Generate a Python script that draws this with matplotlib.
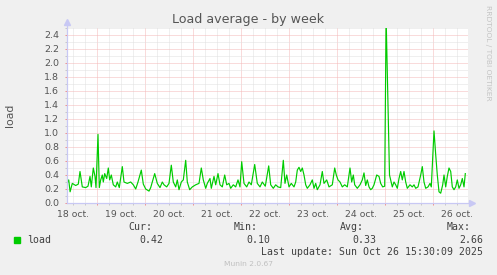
import matplotlib
matplotlib.use("Agg")
import matplotlib.pyplot as plt
from matplotlib.ticker import FixedLocator, MultipleLocator, FuncFormatter

# load average samples, hours counted from 18 oct 00:00
hours = [
    9.2, 10.0, 10.7, 11.8, 13.5, 14.8, 15.65, 16.8, 18.5, 19.65, 20.65, 21.3,
    22.3, 23.15, 23.65, 24.65, 25.3, 26.0, 26.8, 27.3, 28.0, 29.0, 29.8, 30.5,
    31.3, 32.3, 33.5, 34.3, 35.3, 36.8, 37.65, 39.3, 41.0, 42.3, 43.5, 44.65,
    46.3, 47.3, 48.5, 50.15, 51.0, 51.8, 53.0, 54.3, 55.65, 56.8, 57.65, 59.0,
    60.15, 61.3, 62.3, 63.5, 64.3, 65.15, 66.3, 67.3, 68.5, 69.3, 70.5, 71.8,
    73.5, 75.15, 76.3, 77.3, 78.5, 79.3, 80.65, 81.3, 82.65, 83.5, 84.65, 85.65,
    86.8, 88.0, 89.0, 90.15, 91.0, 92.3, 93.5, 94.65, 95.65, 96.5, 97.65, 99.0,
    100.15, 101.3, 103.0, 104.3, 105.65, 106.8, 108.3, 110.0, 111.0, 112.3, 113.5, 114.65,
    116.0, 117.3, 118.15, 119.0, 120.15, 121.3, 122.65, 123.5, 124.3, 125.15, 126.0, 126.8,
    127.65, 128.5, 129.3, 130.65, 131.8, 132.65, 133.5, 134.3, 135.65, 136.8, 137.65, 139.0,
    140.15, 141.8, 143.0, 143.8, 144.65, 145.65, 146.8, 148.0, 149.3, 150.65, 151.5, 152.3,
    153.0, 154.3, 155.65, 156.8, 157.65, 158.5, 159.3, 160.15, 161.0, 161.8, 162.65, 164.0,
    165.15, 166.0, 167.0, 168.0, 168.7, 170.4, 171.0, 171.8, 172.65, 173.5, 174.3, 175.15,
    176.0, 176.8, 177.65, 178.5, 179.3, 180.65, 181.8, 182.65, 183.5, 184.65, 186.0, 186.8,
    187.65, 188.5, 189.65, 190.65, 191.3, 192.65, 193.5, 194.3, 195.15, 196.0, 197.0, 197.65,
    198.5, 199.3, 200.15, 201.0, 201.8, 202.65, 203.5, 204.3, 205.15, 206.0, 206.8, 207.65,
    208.3,
]
load = [
    0.28, 0.33, 0.16, 0.28, 0.25, 0.27, 0.45, 0.23, 0.22, 0.24, 0.38, 0.23,
    0.50, 0.38, 0.22, 0.98, 0.22, 0.33, 0.40, 0.30, 0.42, 0.35, 0.50, 0.33,
    0.40, 0.26, 0.23, 0.30, 0.22, 0.52, 0.30, 0.28, 0.30, 0.26, 0.20, 0.30,
    0.47, 0.27, 0.20, 0.17, 0.22, 0.30, 0.42, 0.28, 0.22, 0.30, 0.26, 0.23,
    0.28, 0.54, 0.30, 0.23, 0.33, 0.19, 0.30, 0.33, 0.61, 0.30, 0.19, 0.23,
    0.26, 0.28, 0.50, 0.33, 0.21, 0.28, 0.35, 0.21, 0.38, 0.26, 0.42, 0.26,
    0.23, 0.40, 0.26, 0.28, 0.21, 0.26, 0.23, 0.33, 0.23, 0.59, 0.28, 0.23,
    0.30, 0.26, 0.55, 0.28, 0.23, 0.30, 0.24, 0.53, 0.26, 0.21, 0.26, 0.23,
    0.22, 0.61, 0.28, 0.40, 0.23, 0.28, 0.23, 0.30, 0.47, 0.51, 0.45, 0.50,
    0.40, 0.26, 0.21, 0.26, 0.33, 0.21, 0.28, 0.19, 0.26, 0.45, 0.28, 0.33,
    0.23, 0.26, 0.50, 0.40, 0.33, 0.30, 0.23, 0.26, 0.23, 0.50, 0.30, 0.40,
    0.26, 0.21, 0.26, 0.33, 0.43, 0.25, 0.33, 0.23, 0.19, 0.21, 0.26, 0.40,
    0.38, 0.28, 0.23, 0.24, 2.66, 0.40, 0.33, 0.23, 0.30, 0.26, 0.21, 0.35,
    0.45, 0.33, 0.45, 0.30, 0.21, 0.26, 0.23, 0.26, 0.21, 0.23, 0.40, 0.52,
    0.30, 0.21, 0.23, 0.28, 0.23, 1.03, 0.69, 0.40, 0.16, 0.14, 0.26, 0.40,
    0.23, 0.38, 0.50, 0.45, 0.23, 0.19, 0.23, 0.33, 0.21, 0.26, 0.35, 0.23,
    0.42,
]

day_labels = ["18 oct.", "19 oct.", "20 oct.", "21 oct.", "22 oct.",
              "23 oct.", "24 oct.", "25 oct.", "26 oct."]
stat_names = ["Cur:", "Min:", "Avg:", "Max:"]
stat_values = ["0.42", "0.10", "0.33", "2.66"]

W, H = 497, 275
GREEN = "#00cc00"
TXT = "#555555"


def fx(x):
    return x / W


def fy(y):
    return 1 - y / H


fig = plt.figure(figsize=(W / 100, H / 100), dpi=100, facecolor="#f0f0f0")
ax = fig.add_axes([fx(67), fy(203), (468 - 67) / W, (203 - 28) / H])
ax.set_facecolor("white")

ax.plot(hours, load, color=GREEN, lw=0.85, zorder=3)

ax.set_xlim(9.15, 209.65)
ax.set_ylim(0, 2.5)

# x grid: red at midnight, grey every 6 h, day names at noon
midnights = [24 * (i + 1) for i in range(len(day_labels) - 1)]
six_hours = [12 + 6 * i for i in range(33) if (12 + 6 * i) % 24 != 0]
ax.xaxis.set_major_locator(FixedLocator(midnights))
ax.xaxis.set_minor_locator(FixedLocator(six_hours))
ax.xaxis.set_major_formatter(FuncFormatter(lambda v, p: ""))
ax.xaxis.set_minor_formatter(FuncFormatter(
    lambda v, p: day_labels[int(v // 24)] if v % 24 == 12 else ""))

ax.yaxis.set_major_locator(MultipleLocator(0.2))
ax.yaxis.set_minor_locator(MultipleLocator(0.1))
ax.yaxis.set_major_formatter(FuncFormatter(lambda v, p: f"{v:.1f}"))

ax.set_axisbelow(True)
ax.grid(which="major", color="#f4b8b8", lw=0.72, linestyle=(0, (1, 1)))
ax.grid(which="minor", color="#e0e0e0", lw=0.72, linestyle=(0, (1, 1)))

ax.tick_params(which="major", axis="both", length=1.5, width=0.72, color="#f09090",
               labelsize=6.8, labelcolor=TXT, pad=4)
ax.tick_params(which="minor", axis="both", length=1.5, width=0.72, color="#c8c8c8",
               labelsize=6.7, labelcolor=TXT, pad=3.5)

for s in ax.spines.values():
    s.set_visible(False)

# axes with arrowheads
axis_col = "#c8c8f4"
ax.plot([0, 1.008], [0, 0], color=axis_col, lw=0.9, transform=ax.transAxes, clip_on=False, zorder=4)
ax.plot([0, 0], [0, 1.03], color=axis_col, lw=0.9, transform=ax.transAxes, clip_on=False, zorder=4)
ax.plot([1.01], [0], marker=">", ms=4, color=axis_col, transform=ax.transAxes, clip_on=False)
ax.plot([0], [1.035], marker="^", ms=4, color=axis_col, transform=ax.transAxes, clip_on=False)

fig.text(fx(248), fy(19), "Load average - by week", ha="center", va="center",
         fontsize=9.1, color=TXT)
fig.text(fx(10), fy(115), "load", ha="center", va="center", rotation=90,
         fontsize=7.8, color=TXT)
fig.text(fx(488), fy(5), "RRDTOOL / TOBI OETIKER", ha="center", va="top",
         rotation=270, fontsize=5.4, color="#c4c4c4")

mono = dict(family="DejaVu Sans Mono", fontsize=7.1, color="#404040", va="baseline")
fig.patches.append(plt.Rectangle((fx(14), fy(243)), 6 / W, 6 / H, color=GREEN,
                                 transform=fig.transFigure, figure=fig))
fig.text(fx(27), fy(243), "load", ha="left", **mono)
name_x = [128, 234, 340, 447]
val_right = [163, 270, 376, 483]
for nx, vr, name, val in zip(name_x, val_right, stat_names, stat_values):
    fig.text(fx(nx), fy(230.5), name, ha="left", **mono)
    fig.text(fx(vr), fy(243), val, ha="right", **mono)
fig.text(fx(483), fy(255), "Last update: Sun Oct 26 15:30:09 2025", ha="right", **mono)
fig.text(fx(248), fy(264), "Munin 2.0.67", ha="center", va="center",
         fontsize=5.4, color="#c0c0c0")

fig.savefig("out.png", dpi=100, facecolor=fig.get_facecolor())
